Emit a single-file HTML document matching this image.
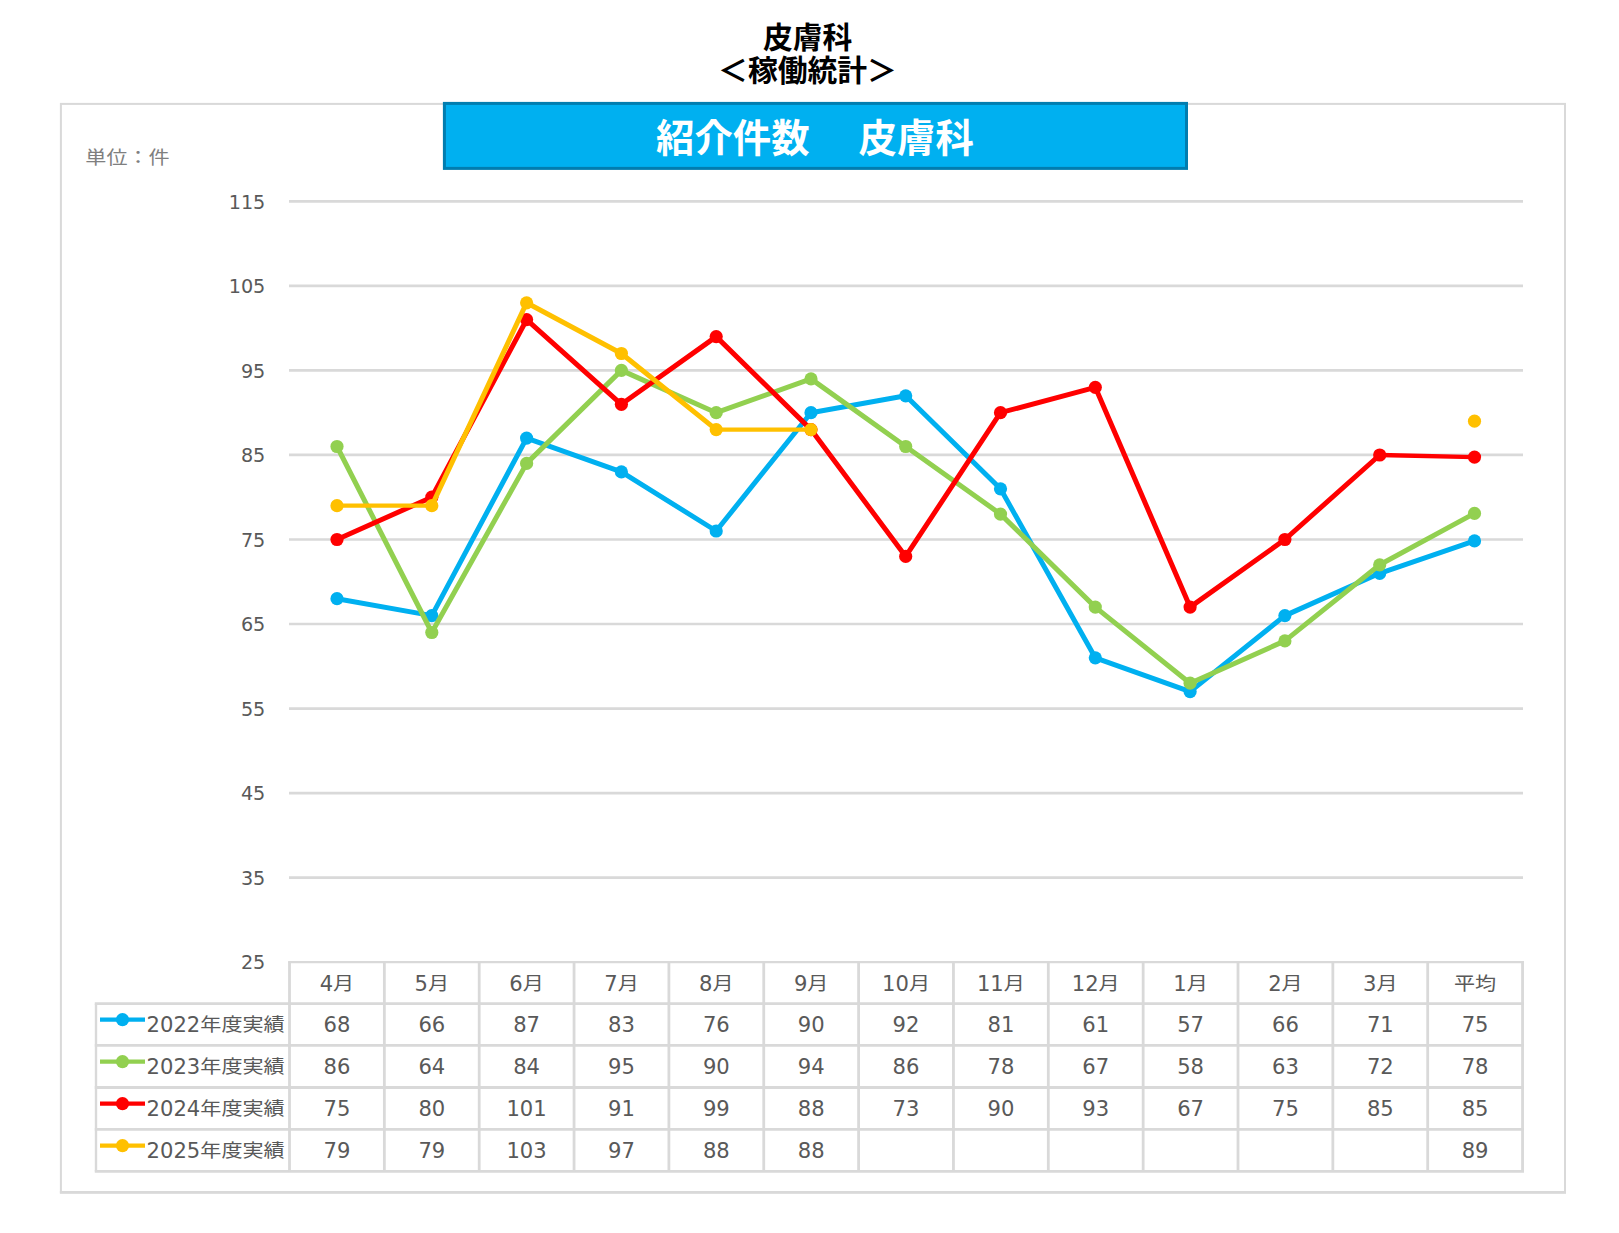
<!DOCTYPE html>
<html lang="ja"><head><meta charset="utf-8"><title>皮膚科 稼働統計</title>
<style>html,body{margin:0;padding:0;background:#fff}body{width:1619px;height:1233px;overflow:hidden}svg{display:block}.l{font-family:"DejaVu Sans","Liberation Sans",sans-serif}.j{font-family:"Liberation Sans","Noto Sans CJK JP",sans-serif}</style></head><body>
<svg width="1619" height="1233" viewBox="0 0 1619 1233">
<rect width="1619" height="1233" fill="#fff"/>
<g class="j" font-weight="bold" font-size="29.8" fill="#000" text-anchor="middle">
<text x="807.7" y="48">皮膚科</text>
<text x="807.5" y="80.6">＜稼働統計＞</text></g>
<rect x="60.9" y="103.9" width="1504.1" height="1088.4" fill="none" stroke="#D9D9D9" stroke-width="2"/>
<line x1="59.9" y1="1192.4" x2="1566" y2="1192.4" stroke="#D9D9D9" stroke-width="2.7"/>
<rect x="444.4" y="103.4" width="742.1" height="65.0" fill="#00B0F0" stroke="#017DAF" stroke-width="3"/>
<g class="j" font-weight="bold" font-size="38.4" fill="#fff">
<text x="656" y="152.2">紹介件数　<tspan x="858.6">皮膚科</tspan></text></g>
<text transform="translate(85.3 163.9) scale(1 0.88)" font-size="21.1" fill="#7F7F7F" class="j">単位：件</text>
<line x1="289.0" y1="201.40" x2="1523.0" y2="201.40" stroke="#D9D9D9" stroke-width="2.7"/>
<text x="265.3" y="208.7" font-size="19.2" fill="#595959" text-anchor="end" class="l">115</text>
<line x1="289.0" y1="285.92" x2="1523.0" y2="285.92" stroke="#D9D9D9" stroke-width="2.7"/>
<text x="265.3" y="293.2" font-size="19.2" fill="#595959" text-anchor="end" class="l">105</text>
<line x1="289.0" y1="370.44" x2="1523.0" y2="370.44" stroke="#D9D9D9" stroke-width="2.7"/>
<text x="265.3" y="377.7" font-size="19.2" fill="#595959" text-anchor="end" class="l">95</text>
<line x1="289.0" y1="454.97" x2="1523.0" y2="454.97" stroke="#D9D9D9" stroke-width="2.7"/>
<text x="265.3" y="462.3" font-size="19.2" fill="#595959" text-anchor="end" class="l">85</text>
<line x1="289.0" y1="539.49" x2="1523.0" y2="539.49" stroke="#D9D9D9" stroke-width="2.7"/>
<text x="265.3" y="546.8" font-size="19.2" fill="#595959" text-anchor="end" class="l">75</text>
<line x1="289.0" y1="624.01" x2="1523.0" y2="624.01" stroke="#D9D9D9" stroke-width="2.7"/>
<text x="265.3" y="631.3" font-size="19.2" fill="#595959" text-anchor="end" class="l">65</text>
<line x1="289.0" y1="708.53" x2="1523.0" y2="708.53" stroke="#D9D9D9" stroke-width="2.7"/>
<text x="265.3" y="715.8" font-size="19.2" fill="#595959" text-anchor="end" class="l">55</text>
<line x1="289.0" y1="793.06" x2="1523.0" y2="793.06" stroke="#D9D9D9" stroke-width="2.7"/>
<text x="265.3" y="800.4" font-size="19.2" fill="#595959" text-anchor="end" class="l">45</text>
<line x1="289.0" y1="877.58" x2="1523.0" y2="877.58" stroke="#D9D9D9" stroke-width="2.7"/>
<text x="265.3" y="884.9" font-size="19.2" fill="#595959" text-anchor="end" class="l">35</text>
<text x="265.3" y="969.4" font-size="19.2" fill="#595959" text-anchor="end" class="l">25</text>
<line x1="288.1" y1="962.10" x2="1524.0" y2="962.10" stroke="#D9D9D9" stroke-width="2.3"/>
<line x1="94.8" y1="1003.65" x2="1524.0" y2="1003.65" stroke="#D9D9D9" stroke-width="2.8"/>
<line x1="94.8" y1="1045.30" x2="1524.0" y2="1045.30" stroke="#D9D9D9" stroke-width="2.8"/>
<line x1="94.8" y1="1087.50" x2="1524.0" y2="1087.50" stroke="#D9D9D9" stroke-width="2.8"/>
<line x1="94.8" y1="1129.40" x2="1524.0" y2="1129.40" stroke="#D9D9D9" stroke-width="2.8"/>
<line x1="94.8" y1="1171.40" x2="1524.0" y2="1171.40" stroke="#D9D9D9" stroke-width="2.8"/>
<line x1="96.0" y1="1003.65" x2="96.0" y2="1171.40" stroke="#D9D9D9" stroke-width="2.4"/>
<line x1="289.50" y1="962.10" x2="289.50" y2="1171.40" stroke="#D9D9D9" stroke-width="2.8"/>
<line x1="384.35" y1="962.10" x2="384.35" y2="1171.40" stroke="#D9D9D9" stroke-width="2.8"/>
<line x1="479.20" y1="962.10" x2="479.20" y2="1171.40" stroke="#D9D9D9" stroke-width="2.8"/>
<line x1="574.05" y1="962.10" x2="574.05" y2="1171.40" stroke="#D9D9D9" stroke-width="2.8"/>
<line x1="668.90" y1="962.10" x2="668.90" y2="1171.40" stroke="#D9D9D9" stroke-width="2.8"/>
<line x1="763.75" y1="962.10" x2="763.75" y2="1171.40" stroke="#D9D9D9" stroke-width="2.8"/>
<line x1="858.60" y1="962.10" x2="858.60" y2="1171.40" stroke="#D9D9D9" stroke-width="2.8"/>
<line x1="953.45" y1="962.10" x2="953.45" y2="1171.40" stroke="#D9D9D9" stroke-width="2.8"/>
<line x1="1048.30" y1="962.10" x2="1048.30" y2="1171.40" stroke="#D9D9D9" stroke-width="2.8"/>
<line x1="1143.15" y1="962.10" x2="1143.15" y2="1171.40" stroke="#D9D9D9" stroke-width="2.8"/>
<line x1="1238.00" y1="962.10" x2="1238.00" y2="1171.40" stroke="#D9D9D9" stroke-width="2.8"/>
<line x1="1332.85" y1="962.10" x2="1332.85" y2="1171.40" stroke="#D9D9D9" stroke-width="2.8"/>
<line x1="1427.70" y1="962.10" x2="1427.70" y2="1171.40" stroke="#D9D9D9" stroke-width="2.8"/>
<line x1="1522.55" y1="962.10" x2="1522.55" y2="1171.40" stroke="#D9D9D9" stroke-width="2.8"/>
<text x="319.66" y="990.77" font-size="21.1" fill="#595959" class="l">4</text><text transform="translate(333.09 990.07) scale(1 0.88)" font-size="21.1" fill="#595959" class="j">月</text>
<text x="414.51" y="990.77" font-size="21.1" fill="#595959" class="l">5</text><text transform="translate(427.94 990.07) scale(1 0.88)" font-size="21.1" fill="#595959" class="j">月</text>
<text x="509.36" y="990.77" font-size="21.1" fill="#595959" class="l">6</text><text transform="translate(522.79 990.07) scale(1 0.88)" font-size="21.1" fill="#595959" class="j">月</text>
<text x="604.21" y="990.77" font-size="21.1" fill="#595959" class="l">7</text><text transform="translate(617.64 990.07) scale(1 0.88)" font-size="21.1" fill="#595959" class="j">月</text>
<text x="699.06" y="990.77" font-size="21.1" fill="#595959" class="l">8</text><text transform="translate(712.49 990.07) scale(1 0.88)" font-size="21.1" fill="#595959" class="j">月</text>
<text x="793.91" y="990.77" font-size="21.1" fill="#595959" class="l">9</text><text transform="translate(807.34 990.07) scale(1 0.88)" font-size="21.1" fill="#595959" class="j">月</text>
<text x="882.05" y="990.77" font-size="21.1" fill="#595959" class="l">10</text><text transform="translate(908.90 990.07) scale(1 0.88)" font-size="21.1" fill="#595959" class="j">月</text>
<text x="976.90" y="990.77" font-size="21.1" fill="#595959" class="l">11</text><text transform="translate(1003.75 990.07) scale(1 0.88)" font-size="21.1" fill="#595959" class="j">月</text>
<text x="1071.75" y="990.77" font-size="21.1" fill="#595959" class="l">12</text><text transform="translate(1098.60 990.07) scale(1 0.88)" font-size="21.1" fill="#595959" class="j">月</text>
<text x="1173.31" y="990.77" font-size="21.1" fill="#595959" class="l">1</text><text transform="translate(1186.74 990.07) scale(1 0.88)" font-size="21.1" fill="#595959" class="j">月</text>
<text x="1268.16" y="990.77" font-size="21.1" fill="#595959" class="l">2</text><text transform="translate(1281.59 990.07) scale(1 0.88)" font-size="21.1" fill="#595959" class="j">月</text>
<text x="1363.01" y="990.77" font-size="21.1" fill="#595959" class="l">3</text><text transform="translate(1376.44 990.07) scale(1 0.88)" font-size="21.1" fill="#595959" class="j">月</text>
<text transform="translate(1454.03 990.07) scale(1 0.88)" font-size="21.1" fill="#595959" class="j">平均</text>
<g class="l" font-size="21.1" fill="#595959" text-anchor="middle">
<text x="336.9" y="1031.9">68</text>
<text x="431.8" y="1031.9">66</text>
<text x="526.6" y="1031.9">87</text>
<text x="621.5" y="1031.9">83</text>
<text x="716.3" y="1031.9">76</text>
<text x="811.2" y="1031.9">90</text>
<text x="906.0" y="1031.9">92</text>
<text x="1000.9" y="1031.9">81</text>
<text x="1095.7" y="1031.9">61</text>
<text x="1190.6" y="1031.9">57</text>
<text x="1285.4" y="1031.9">66</text>
<text x="1380.3" y="1031.9">71</text>
<text x="1475.1" y="1031.9">75</text>
<text x="336.9" y="1073.8">86</text>
<text x="431.8" y="1073.8">64</text>
<text x="526.6" y="1073.8">84</text>
<text x="621.5" y="1073.8">95</text>
<text x="716.3" y="1073.8">90</text>
<text x="811.2" y="1073.8">94</text>
<text x="906.0" y="1073.8">86</text>
<text x="1000.9" y="1073.8">78</text>
<text x="1095.7" y="1073.8">67</text>
<text x="1190.6" y="1073.8">58</text>
<text x="1285.4" y="1073.8">63</text>
<text x="1380.3" y="1073.8">72</text>
<text x="1475.1" y="1073.8">78</text>
<text x="336.9" y="1115.9">75</text>
<text x="431.8" y="1115.9">80</text>
<text x="526.6" y="1115.9">101</text>
<text x="621.5" y="1115.9">91</text>
<text x="716.3" y="1115.9">99</text>
<text x="811.2" y="1115.9">88</text>
<text x="906.0" y="1115.9">73</text>
<text x="1000.9" y="1115.9">90</text>
<text x="1095.7" y="1115.9">93</text>
<text x="1190.6" y="1115.9">67</text>
<text x="1285.4" y="1115.9">75</text>
<text x="1380.3" y="1115.9">85</text>
<text x="1475.1" y="1115.9">85</text>
<text x="336.9" y="1157.8">79</text>
<text x="431.8" y="1157.8">79</text>
<text x="526.6" y="1157.8">103</text>
<text x="621.5" y="1157.8">97</text>
<text x="716.3" y="1157.8">88</text>
<text x="811.2" y="1157.8">88</text>
<text x="1475.1" y="1157.8">89</text>
</g>
<line x1="100" y1="1019.7" x2="145" y2="1019.7" stroke="#00B0F0" stroke-width="4.3"/>
<circle cx="122.5" cy="1019.7" r="6.6" fill="#00B0F0"/>
<text x="146.60" y="1031.88" font-size="21.1" fill="#595959" class="l">2022</text><text transform="translate(200.30 1031.17) scale(1 0.88)" font-size="21.1" fill="#595959" class="j">年度実績</text>
<line x1="100" y1="1061.6" x2="145" y2="1061.6" stroke="#92D050" stroke-width="4.3"/>
<circle cx="122.5" cy="1061.6" r="6.6" fill="#92D050"/>
<text x="146.60" y="1073.80" font-size="21.1" fill="#595959" class="l">2023</text><text transform="translate(200.30 1073.10) scale(1 0.88)" font-size="21.1" fill="#595959" class="j">年度実績</text>
<line x1="100" y1="1103.7" x2="145" y2="1103.7" stroke="#FF0000" stroke-width="4.3"/>
<circle cx="122.5" cy="1103.7" r="6.6" fill="#FF0000"/>
<text x="146.60" y="1115.85" font-size="21.1" fill="#595959" class="l">2024</text><text transform="translate(200.30 1115.15) scale(1 0.88)" font-size="21.1" fill="#595959" class="j">年度実績</text>
<line x1="100" y1="1145.6" x2="145" y2="1145.6" stroke="#FFC000" stroke-width="4.3"/>
<circle cx="122.5" cy="1145.6" r="6.6" fill="#FFC000"/>
<text x="146.60" y="1157.80" font-size="21.1" fill="#595959" class="l">2025</text><text transform="translate(200.30 1157.10) scale(1 0.88)" font-size="21.1" fill="#595959" class="j">年度実績</text>
<g stroke="#00B0F0" stroke-linecap="round" fill="none">
<line x1="337.0" y1="598.7" x2="431.8" y2="615.6" stroke-width="5.00"/>
<line x1="431.8" y1="615.6" x2="526.6" y2="438.1" stroke-width="5.00"/>
<line x1="526.6" y1="438.1" x2="621.4" y2="471.9" stroke-width="5.00"/>
<line x1="621.4" y1="471.9" x2="716.2" y2="531.0" stroke-width="5.00"/>
<line x1="716.2" y1="531.0" x2="811.0" y2="412.7" stroke-width="5.00"/>
<line x1="811.0" y1="412.7" x2="905.7" y2="395.8" stroke-width="5.00"/>
<line x1="905.7" y1="395.8" x2="1000.5" y2="488.8" stroke-width="5.00"/>
<line x1="1000.5" y1="488.8" x2="1095.3" y2="657.8" stroke-width="5.00"/>
<line x1="1095.3" y1="657.8" x2="1190.1" y2="691.6" stroke-width="5.00"/>
<line x1="1190.1" y1="691.6" x2="1284.9" y2="615.6" stroke-width="5.00"/>
<line x1="1284.9" y1="615.6" x2="1379.7" y2="573.3" stroke-width="5.00"/>
<line x1="1379.7" y1="573.3" x2="1474.5" y2="540.9" stroke-width="5.00"/>
</g>
<g fill="#00B0F0">
<circle cx="337.0" cy="598.7" r="6.6"/>
<circle cx="431.8" cy="615.6" r="6.6"/>
<circle cx="526.6" cy="438.1" r="6.6"/>
<circle cx="621.4" cy="471.9" r="6.6"/>
<circle cx="716.2" cy="531.0" r="6.6"/>
<circle cx="811.0" cy="412.7" r="6.6"/>
<circle cx="905.7" cy="395.8" r="6.6"/>
<circle cx="1000.5" cy="488.8" r="6.6"/>
<circle cx="1095.3" cy="657.8" r="6.6"/>
<circle cx="1190.1" cy="691.6" r="6.6"/>
<circle cx="1284.9" cy="615.6" r="6.6"/>
<circle cx="1379.7" cy="573.3" r="6.6"/>
<circle cx="1474.5" cy="540.9" r="6.6"/>
</g>
<g stroke="#92D050" stroke-linecap="round" fill="none">
<line x1="337.0" y1="446.5" x2="431.8" y2="632.5" stroke-width="5.00"/>
<line x1="431.8" y1="632.5" x2="526.6" y2="463.4" stroke-width="5.00"/>
<line x1="526.6" y1="463.4" x2="621.4" y2="370.4" stroke-width="5.00"/>
<line x1="621.4" y1="370.4" x2="716.2" y2="412.7" stroke-width="5.00"/>
<line x1="716.2" y1="412.7" x2="811.0" y2="378.9" stroke-width="5.00"/>
<line x1="811.0" y1="378.9" x2="905.7" y2="446.5" stroke-width="5.00"/>
<line x1="905.7" y1="446.5" x2="1000.5" y2="514.1" stroke-width="5.00"/>
<line x1="1000.5" y1="514.1" x2="1095.3" y2="607.1" stroke-width="5.00"/>
<line x1="1095.3" y1="607.1" x2="1190.1" y2="683.2" stroke-width="5.00"/>
<line x1="1190.1" y1="683.2" x2="1284.9" y2="640.9" stroke-width="5.00"/>
<line x1="1284.9" y1="640.9" x2="1379.7" y2="564.8" stroke-width="5.00"/>
<line x1="1379.7" y1="564.8" x2="1474.5" y2="513.4" stroke-width="5.00"/>
</g>
<g fill="#92D050">
<circle cx="337.0" cy="446.5" r="6.6"/>
<circle cx="431.8" cy="632.5" r="6.6"/>
<circle cx="526.6" cy="463.4" r="6.6"/>
<circle cx="621.4" cy="370.4" r="6.6"/>
<circle cx="716.2" cy="412.7" r="6.6"/>
<circle cx="811.0" cy="378.9" r="6.6"/>
<circle cx="905.7" cy="446.5" r="6.6"/>
<circle cx="1000.5" cy="514.1" r="6.6"/>
<circle cx="1095.3" cy="607.1" r="6.6"/>
<circle cx="1190.1" cy="683.2" r="6.6"/>
<circle cx="1284.9" cy="640.9" r="6.6"/>
<circle cx="1379.7" cy="564.8" r="6.6"/>
<circle cx="1474.5" cy="513.4" r="6.6"/>
</g>
<g stroke="#FF0000" stroke-linecap="round" fill="none">
<line x1="337.0" y1="539.5" x2="431.8" y2="497.2" stroke-width="5.00"/>
<line x1="431.8" y1="497.2" x2="526.6" y2="319.7" stroke-width="5.00"/>
<line x1="526.6" y1="319.7" x2="621.4" y2="404.3" stroke-width="5.00"/>
<line x1="621.4" y1="404.3" x2="716.2" y2="336.6" stroke-width="5.00"/>
<line x1="716.2" y1="336.6" x2="811.0" y2="429.6" stroke-width="5.00"/>
<line x1="811.0" y1="429.6" x2="905.7" y2="556.4" stroke-width="5.00"/>
<line x1="905.7" y1="556.4" x2="1000.5" y2="412.7" stroke-width="5.00"/>
<line x1="1000.5" y1="412.7" x2="1095.3" y2="387.3" stroke-width="5.00"/>
<line x1="1095.3" y1="387.3" x2="1190.1" y2="607.1" stroke-width="5.00"/>
<line x1="1190.1" y1="607.1" x2="1284.9" y2="539.5" stroke-width="5.00"/>
<line x1="1284.9" y1="539.5" x2="1379.7" y2="455.0" stroke-width="5.00"/>
<line x1="1379.7" y1="455.0" x2="1474.5" y2="457.1" stroke-width="4.45"/>
</g>
<g fill="#FF0000">
<circle cx="337.0" cy="539.5" r="6.6"/>
<circle cx="431.8" cy="497.2" r="6.6"/>
<circle cx="526.6" cy="319.7" r="6.6"/>
<circle cx="621.4" cy="404.3" r="6.6"/>
<circle cx="716.2" cy="336.6" r="6.6"/>
<circle cx="811.0" cy="429.6" r="6.6"/>
<circle cx="905.7" cy="556.4" r="6.6"/>
<circle cx="1000.5" cy="412.7" r="6.6"/>
<circle cx="1095.3" cy="387.3" r="6.6"/>
<circle cx="1190.1" cy="607.1" r="6.6"/>
<circle cx="1284.9" cy="539.5" r="6.6"/>
<circle cx="1379.7" cy="455.0" r="6.6"/>
<circle cx="1474.5" cy="457.1" r="6.6"/>
</g>
<g stroke="#FFC000" stroke-linecap="round" fill="none">
<line x1="337.0" y1="505.7" x2="431.8" y2="505.7" stroke-width="4.30"/>
<line x1="431.8" y1="505.7" x2="526.6" y2="302.8" stroke-width="5.00"/>
<line x1="526.6" y1="302.8" x2="621.4" y2="353.5" stroke-width="5.00"/>
<line x1="621.4" y1="353.5" x2="716.2" y2="429.6" stroke-width="5.00"/>
<line x1="716.2" y1="429.6" x2="811.0" y2="429.6" stroke-width="4.30"/>
</g>
<g fill="#FFC000">
<circle cx="337.0" cy="505.7" r="6.6"/>
<circle cx="431.8" cy="505.7" r="6.6"/>
<circle cx="526.6" cy="302.8" r="6.6"/>
<circle cx="621.4" cy="353.5" r="6.6"/>
<circle cx="716.2" cy="429.6" r="6.6"/>
<circle cx="811.0" cy="429.6" r="6.6"/>
<circle cx="1474.5" cy="421.2" r="6.6"/>
</g>
</svg></body></html>
